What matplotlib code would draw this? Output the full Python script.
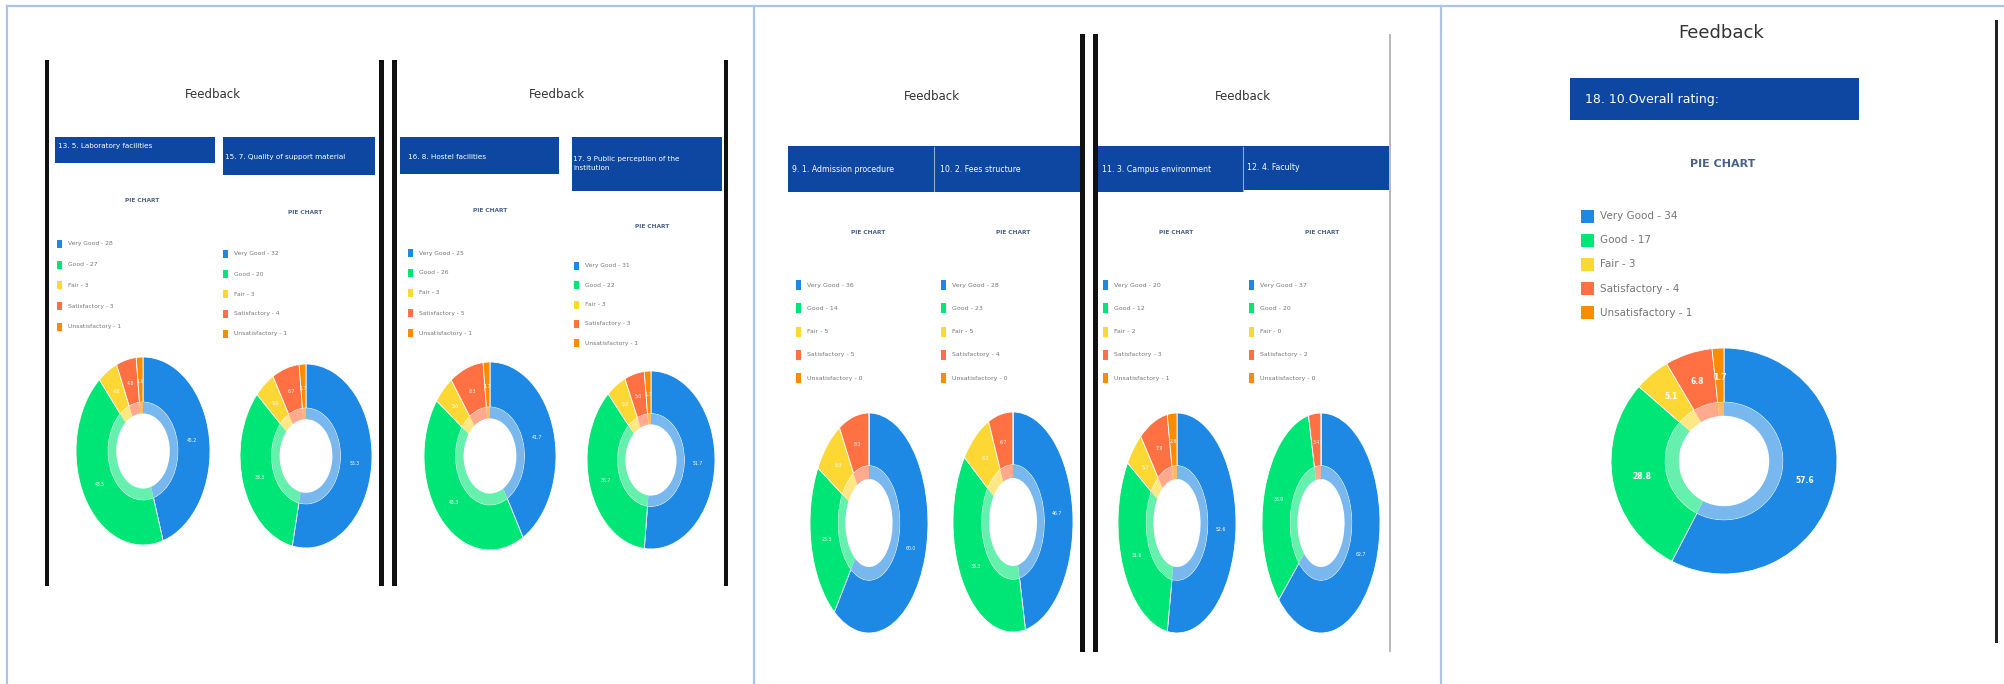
import numpy as np
import matplotlib.pyplot as plt
from matplotlib.patches import Rectangle
from matplotlib.colors import to_rgb

W, H = 2004, 684

# 数据
categories = ['Very Good', 'Good', 'Fair', 'Satisfactory', 'Unsatisfactory']
colors = ['#1e88e5', '#00e676', '#fdd835', '#ff7043', '#fb8c00']

lab_facilities = [28, 27, 3, 3, 1]
support_material = [32, 20, 3, 4, 1]
hostel_facilities = [25, 26, 3, 5, 1]
public_perception = [31, 22, 3, 3, 1]
admission = [36, 14, 5, 5, 0]
fees = [28, 23, 5, 4, 0]
campus = [20, 12, 2, 3, 1]
faculty = [37, 20, 0, 2, 0]
overall = [34, 17, 3, 4, 1]

titles = ['13. 5. Laboratory facilities',
          '15. 7. Quality of support material',
          '16. 8. Hostel facilities',
          '17. 9 Public perception of the\ninstitution',
          '9. 1. Admission procedure',
          '10. 2. Fees structure',
          '11. 3. Campus environment',
          '12. 4. Faculty',
          '18. 10.Overall rating:']

HEADER = '#0d47a1'
light = [tuple(0.6 * np.array(to_rgb(c)) + 0.4) for c in colors]

fig = plt.figure(figsize=(W / 100, H / 100), dpi=100)
bg = fig.add_axes([0, 0, 1, 1])
bg.set_xlim(0, W)
bg.set_ylim(H, 0)
bg.axis('off')


def vline(x, y0, y1, lw, color):
    bg.add_patch(Rectangle((x, y0), lw, y1 - y0, color=color, lw=0))


def donut(vals, cx, cy, rx, ry, fs, bold=False):
    ax = fig.add_axes([(cx - rx) / W, 1 - (cy + ry) / H, 2 * rx / W, 2 * ry / H])
    wedges, _ = ax.pie(vals, colors=colors, radius=1.0, startangle=90, counterclock=False,
                       wedgeprops=dict(width=0.48, edgecolor='white', linewidth=0.6))
    ax.pie(vals, colors=light, radius=0.52, startangle=90, counterclock=False,
           wedgeprops=dict(width=0.12, edgecolor='none'))
    tot = sum(vals)
    for w, v in zip(wedges, vals):
        if v == 0:
            continue
        a = np.deg2rad((w.theta1 + w.theta2) / 2)
        ax.text(0.74 * np.cos(a), 0.74 * np.sin(a), f'{100 * v / tot:.1f}',
                ha='center', va='center', color='white', fontsize=fs,
                fontweight='bold' if bold else 'normal')
    ax.set_xlim(-1, 1)
    ax.set_ylim(-1, 1)
    ax.set_aspect('auto')
    ax.axis('off')


def panel(vals, title, box, tpos, tfs, ppos, pfs, lx, ly0, ldy, msize, lfs, dpos, dfs, bold=False):
    bx, by, bw, bh = box
    bg.add_patch(Rectangle((bx, by), bw, bh, color=HEADER, lw=0))
    bg.text(tpos[0], tpos[1], title, color='white', fontsize=tfs, ha='left', va='center',
            linespacing=1.6)
    bg.text(ppos[0], ppos[1], 'PIE CHART', color='#4a6288', fontsize=pfs,
            fontweight='bold', ha='center', va='center')
    mw, mh = msize
    for i, (c, v) in enumerate(zip(categories, vals)):
        y = ly0 + i * ldy
        bg.add_patch(Rectangle((lx, y - mh / 2), mw, mh, color=colors[i], lw=0))
        bg.text(lx + mw + 6, y, f'{c} - {v}', color='#777777', fontsize=lfs,
                ha='left', va='center')
    donut(vals, *dpos, dfs, bold)


# 表格边框
border = '#a9c6e8'
bg.plot([7, W], [6, 6], color=border, lw=1.6)
for x in [7, 754, 1441]:
    bg.plot([x, x], [6, H], color=border, lw=1.6)

# 单元格1：两张截图
vline(45, 60, 586, 4, '#111111')
vline(379, 60, 586, 5, '#111111')
vline(392, 60, 586, 5, '#111111')
vline(724, 60, 586, 4, '#111111')
for x in [213, 557]:
    bg.text(x, 95, 'Feedback', color='#333333', fontsize=8.5, ha='center', va='center')

small = dict(tfs=5.2, pfs=4.2, msize=(5, 8), lfs=4.3, dfs=3.3)
panel(lab_facilities, titles[0], (55, 137, 160, 26), (58, 146), ppos=(142, 200),
      lx=57, ly0=244, ldy=20.7, dpos=(143, 451, 67, 94), **small)
panel(support_material, titles[1], (223, 137, 152, 38), (225, 157), ppos=(305, 213),
      lx=223, ly0=254, ldy=20.0, dpos=(306, 456, 66, 92), **small)
panel(hostel_facilities, titles[2], (400, 137, 159, 37), (408, 157), ppos=(490, 211),
      lx=408, ly0=253, ldy=20.0, dpos=(490, 456, 66, 94), **small)
panel(public_perception, titles[3], (572, 137, 150, 54), (573, 164), ppos=(652, 226),
      lx=574, ly0=266, ldy=19.3, dpos=(651, 460, 64, 89), **small)

# 单元格2：两张截图
vline(1080, 34, 652, 5, '#111111')
vline(1093, 34, 652, 5, '#111111')
vline(1389, 34, 652, 2, '#bbbbbb')
for x in [932, 1243]:
    bg.text(x, 97, 'Feedback', color='#333333', fontsize=8.5, ha='center', va='center')

mid = dict(tfs=5.6, pfs=4.2, msize=(5, 10), lfs=4.5, dfs=3.3)
panel(admission, titles[4], (788, 146, 146, 46), (792, 169), ppos=(868, 233),
      lx=796, ly0=285, ldy=23.3, dpos=(869, 523, 59, 110), **mid)
panel(fees, titles[5], (934, 146, 146, 46), (940, 169), ppos=(1013, 233),
      lx=941, ly0=285, ldy=23.3, dpos=(1013, 522, 60, 110), **mid)
panel(campus, titles[6], (1098, 146, 145, 46), (1102, 169), ppos=(1176, 233),
      lx=1103, ly0=285, ldy=23.3, dpos=(1177, 523, 59, 110), **mid)
panel(faculty, titles[7], (1243, 146, 146, 44), (1247, 167), ppos=(1322, 233),
      lx=1249, ly0=285, ldy=23.3, dpos=(1321, 523, 59, 110), **mid)
bg.plot([934, 934], [147, 191], color='#8fa8d0', lw=0.8)
bg.plot([1243, 1243], [147, 191], color='#8fa8d0', lw=0.8)

# 单元格3：总体评价
vline(1995, 20, 643, 3, '#222222')
bg.text(1721, 33, 'Feedback', color='#333333', fontsize=13, ha='center', va='center')
panel(overall, titles[8], (1570, 78, 289, 42), (1585, 99), tfs=9, ppos=(1723, 164), pfs=8,
      lx=1581, ly0=216, ldy=24.2, msize=(13, 13), lfs=7.5,
      dpos=(1724, 461, 113, 113), dfs=5.5, bold=True)

fig.savefig('out.png', dpi=100, facecolor='white')
